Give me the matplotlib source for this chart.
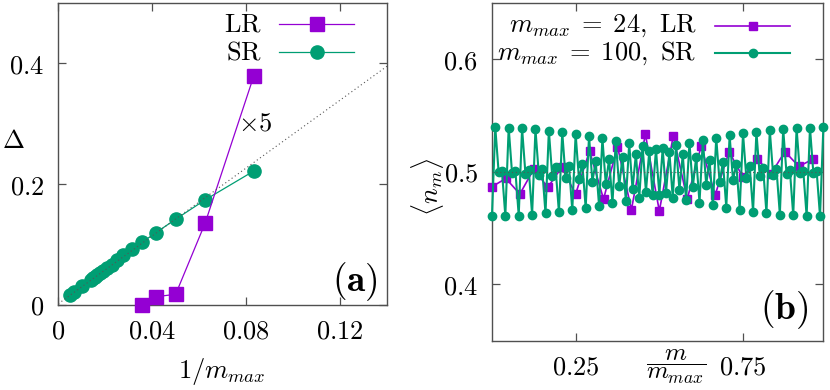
import matplotlib
matplotlib.use('Agg')
import matplotlib.pyplot as plt
import numpy as np

plt.rcParams['mathtext.fontset'] = 'cm'
plt.rcParams['font.family'] = 'serif'
plt.rcParams['font.serif'] = ['DejaVu Serif']

PURPLE = '#9400d3'
GREEN = '#009e73'
AXIS = '#505050'
GUIDE = '#555555'

# ---- panel (a): gap vs 1/m_max ----
lr_mmax = [28, 24, 20, 16, 12]
lr_gap = [0.0, 0.0137, 0.0177, 0.135, 0.380]
sr_mmax = [200, 150, 100, 72, 68, 64, 60, 56, 52, 48, 44, 40, 36, 32, 28, 24, 20, 16, 12]
sr_gap = [0.017, 0.022, 0.031, 0.042, 0.045, 0.047, 0.050, 0.053, 0.057, 0.062,
          0.067, 0.074, 0.082, 0.092, 0.104, 0.120, 0.142, 0.174, 0.222]
fit_a, fit_b = 0.002, 2.81   # dotted guide through the SR points

# ---- panel (b): density profiles ----
lr_density = [0.4868, 0.4941, 0.4803, 0.5024, 0.4862, 0.5039, 0.4803, 0.5186,
              0.4758, 0.5225, 0.4664, 0.5334, 0.4652, 0.5319, 0.4758, 0.5230,
              0.4794, 0.5180, 0.4950, 0.5118, 0.4980, 0.5180, 0.5048, 0.5112]
sr_density = [0.4605, 0.5395, 0.4995, 0.5006, 0.4607, 0.5393, 0.4991, 0.5010,
              0.4611, 0.5387, 0.4985, 0.5017, 0.4619, 0.5379, 0.4976, 0.5027,
              0.4630, 0.5367, 0.4964, 0.5039, 0.4643, 0.5353, 0.4949, 0.5055,
              0.4659, 0.5337, 0.4932, 0.5072, 0.4677, 0.5318, 0.4913, 0.5092,
              0.4697, 0.5298, 0.4892, 0.5113, 0.4719, 0.5275, 0.4870, 0.5136,
              0.4742, 0.5252, 0.4846, 0.5160, 0.4766, 0.5228, 0.4822, 0.5185,
              0.4791, 0.5203, 0.4797, 0.5209, 0.4815, 0.5178, 0.4772, 0.5234,
              0.4840, 0.5154, 0.4748, 0.5258, 0.4864, 0.5130, 0.4725, 0.5281,
              0.4887, 0.5108, 0.4702, 0.5303, 0.4908, 0.5087, 0.4682, 0.5323,
              0.4928, 0.5068, 0.4663, 0.5341, 0.4945, 0.5051, 0.4647, 0.5357,
              0.4961, 0.5036, 0.4633, 0.5370, 0.4973, 0.5024, 0.4621, 0.5381,
              0.4983, 0.5015, 0.4613, 0.5389, 0.4990, 0.5009, 0.4607, 0.5393,
              0.4994, 0.5005, 0.4605, 0.5395]
lr_size, sr_size = 24, 100

FS = 19


def style(ax):
    for s in ax.spines.values():
        s.set_color(AXIS)
        s.set_linewidth(1.0)
    ax.tick_params(direction='in', top=True, right=True, length=5.5, width=0.9,
                   color=AXIS, labelsize=FS, pad=10)


def legend_row(ax, y, label, color, marker, ms, lw, x_txt, x0, x1):
    ax.text(x_txt, y, label, transform=ax.transAxes, ha='right', va='center',
            fontsize=FS)
    ax.plot([x0, x1], [y, y], transform=ax.transAxes, color=color, lw=lw,
            clip_on=False)
    ax.plot([(x0 + x1) / 2], [y], transform=ax.transAxes, color=color,
            marker=marker, ms=ms, clip_on=False)


fig = plt.figure(figsize=(8.3, 3.9), dpi=100)
axa = fig.add_axes([0.0702, 0.218, 0.396, 0.774])
axb = fig.add_axes([0.5927, 0.1264, 0.3993, 0.866])

# panel (a)
style(axa)
axa.plot(1 / np.array(sr_mmax), sr_gap, color=GREEN, lw=0.9, marker='o', ms=9.5,
         zorder=3, clip_on=False)
axa.plot(1 / np.array(lr_mmax), lr_gap, color=PURPLE, lw=0.9, marker='s', ms=9.5,
         zorder=4, clip_on=False)
xs = np.array([0.0, 0.14])
axa.plot(xs, fit_a + fit_b * xs, color=GUIDE, lw=0.8, ls=(0, (1, 2.5)), zorder=5)
axa.set_xlim(0, 0.14)
axa.set_ylim(0, 0.5)
axa.set_xticks([0, 0.04, 0.08, 0.12])
axa.set_xticklabels(['$0$', '$0.04$', '$0.08$', '$0.12$'])
axa.set_yticks([0, 0.2, 0.4])
axa.set_yticklabels(['$0$', '$0.2$', '$0.4$'])
axa.text(0.0765, 0.301, r'$\times 5$', fontsize=FS, ha='left', va='center')
axa.text(0.4977, -0.222, r'$1/m_{max}$', transform=axa.transAxes, ha='center',
         va='center', fontsize=FS)
axa.text(-0.138, 0.546, r'$\Delta$', transform=axa.transAxes, ha='center',
         va='center', fontsize=FS)
axa.text(0.9726, 0.079, r'$\mathbf{(a)}$', transform=axa.transAxes, ha='right',
         va='center', fontsize=27)
legend_row(axa, 0.9295, r'$\mathrm{LR}$', PURPLE, 's', 9.5, 0.9, 0.6197, 0.6723, 0.8996)
legend_row(axa, 0.8387, r'$\mathrm{SR}$', GREEN, 'o', 9.5, 0.9, 0.6197, 0.6723, 0.8996)

# panel (b)
style(axb)
axb.axhline(0.5, color=GUIDE, lw=0.8, ls=(0, (1, 2.5)), zorder=5)
axb.plot(np.arange(lr_size) / lr_size, lr_density, color=PURPLE, lw=1.2,
         marker='s', ms=6, zorder=3, clip_on=False)
axb.plot(np.arange(sr_size) / sr_size, sr_density, color=GREEN, lw=1.5,
         marker='o', ms=6, zorder=4, clip_on=False)
axb.set_xlim(0, 0.99)
axb.set_ylim(0.35, 0.65)
axb.set_xticks([0.25, 0.75])
axb.set_xticklabels(['$0.25$', '$0.75$'])
axb.set_yticks([0.4, 0.5, 0.6])
axb.set_yticklabels(['$0.4$', '$0.5$', '$0.6$'])
axb.text(0.5555, -0.077, r'$\dfrac{m}{m_{max}}$', transform=axb.transAxes,
         ha='center', va='center', fontsize=FS - 1)
axb.text(-0.195, 0.455, r'$\langle n_m \rangle$', transform=axb.transAxes,
         ha='center', va='center', rotation=90, fontsize=FS)
axb.text(0.954, 0.091, r'$\mathbf{(b)}$', transform=axb.transAxes, ha='right',
         va='center', fontsize=27)
legend_row(axb, 0.932, r'$m_{max}\;=\;24,\ \mathrm{LR}$', PURPLE, 's', 6, 1.2,
           0.618, 0.673, 0.900)
legend_row(axb, 0.852, r'$m_{max}\;=\;100,\ \mathrm{SR}$', GREEN, 'o', 6, 1.5,
           0.618, 0.673, 0.900)

fig.savefig('out.png', dpi=100)
